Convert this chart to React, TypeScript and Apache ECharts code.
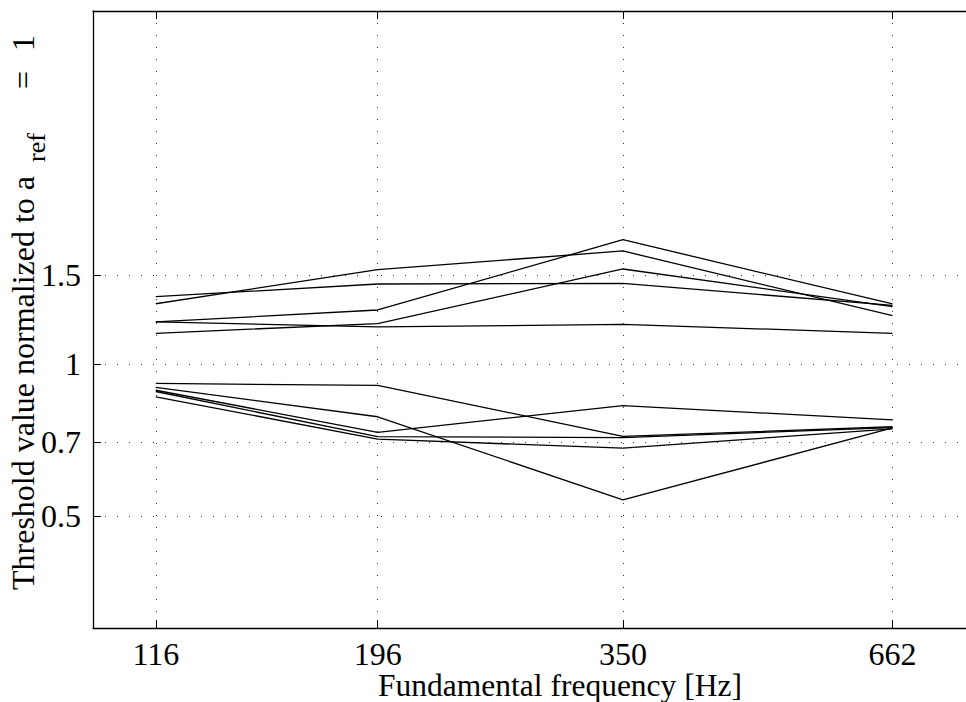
import React, { useEffect, useRef } from 'react';
import * as echarts from 'echarts';

// Fundamental frequencies (Hz) – x categories on a log axis
const frequencies = [116, 196, 350, 662];
const xTickValues = [116, 196, 350, 662];
const yTickValues = [0.5, 0.7, 1, 1.5];
const yTickLabels = ['0.5', '0.7', '1', '1.5'];

// Threshold values normalized to a_ref = 1 (one array per listener/condition)
const seriesA = [1.359, 1.44, 1.444, 1.306];
const seriesB = [1.316, 1.537, 1.674, 1.246];
const seriesC = [1.211, 1.279, 1.762, 1.315];
const seriesD = [1.211, 1.184, 1.198, 1.15];
const seriesE = [1.15, 1.202, 1.542, 1.299];
const seriesF = [0.915, 0.907, 0.719, 0.751];
const seriesG = [0.899, 0.786, 0.538, 0.747];
const seriesH = [0.887, 0.732, 0.827, 0.775];
const seriesI = [0.882, 0.718, 0.715, 0.748];
const seriesJ = [0.861, 0.71, 0.681, 0.744];

const allSeries = [seriesA, seriesB, seriesC, seriesD, seriesE, seriesF, seriesG, seriesH, seriesI, seriesJ];

const FONT = '"Liberation Serif", "DejaVu Serif", serif';
const CHART_W = 1100; // the plot box runs past the right edge of the 966px view, as in the reference

export default function App() {
  const ref = useRef<HTMLDivElement>(null);
  useEffect(() => {
    document.body.style.margin = '0';
    if (!ref.current) return;
    const chart = echarts.init(ref.current, null, { renderer: 'svg' });
    const fmtY = (v: number) => {
      const i = yTickValues.findIndex((t) => Math.abs(t - v) < 1e-6);
      return i >= 0 ? yTickLabels[i] : String(v);
    };
    const gridLine = { show: true, lineStyle: { type: [1, 11] as any, color: '#333', width: 1 } };
    const option: any = {
      animation: false,
      grid: { left: 93, top: 11, right: CHART_W - 1067, bottom: 74 },
      xAxis: [
        {
          type: 'log',
          logBase: 10,
          min: 100,
          max: 1000,
          position: 'bottom',
          axisLine: { show: true, onZero: false, lineStyle: { color: '#000', width: 1.3 } },
          axisTick: { show: true, inside: true, length: 8, customValues: xTickValues, lineStyle: { color: '#000', width: 1 } },
          axisLabel: { show: true, customValues: xTickValues, fontFamily: FONT, fontSize: 32, lineHeight: 24, color: '#000', margin: 14 },
          splitLine: gridLine,
          minorTick: { show: false },
          minorSplitLine: { show: false },
        },
        {
          type: 'log',
          logBase: 10,
          min: 100,
          max: 1000,
          position: 'top',
          axisLine: { show: true, onZero: false, lineStyle: { color: '#000', width: 1.3 } },
          axisTick: { show: true, inside: true, length: 8, customValues: xTickValues, lineStyle: { color: '#000', width: 1 } },
          axisLabel: { show: false },
          splitLine: { show: false },
        },
      ],
      yAxis: [
        {
          type: 'log',
          logBase: 10,
          min: 0.3,
          max: 5,
          position: 'left',
          axisLine: { show: true, onZero: false, lineStyle: { color: '#000', width: 1.3 } },
          axisTick: { show: true, inside: true, length: 8, customValues: yTickValues, lineStyle: { color: '#000', width: 1 } },
          axisLabel: { show: true, customValues: yTickValues, formatter: fmtY, fontFamily: FONT, fontSize: 32, color: '#000', margin: 12 },
          splitLine: gridLine,
          minorTick: { show: false },
        },
      ],
      series: allSeries.map((vals, k) => ({
        type: 'line',
        name: 'S' + (k + 1),
        xAxisIndex: 0,
        yAxisIndex: 0,
        symbol: 'none',
        lineStyle: { color: '#000', width: 1.3 },
        data: frequencies.map((f, i) => [f, vals[i]]),
      })),
      graphic: [
        {
          type: 'text',
          x: 560,
          y: 685,
          style: {
            text: 'Fundamental frequency [Hz]',
            font: `31.5px ${FONT}`,
            lineHeight: 24,
            fill: '#000',
            align: 'center',
            verticalAlign: 'middle',
          },
        },
        {
          type: 'text',
          x: 25,
          y: 590,
          rotation: Math.PI / 2,
          style: {
            text: '{m|Threshold value normalized to a}{s|ref}{e|=}{m|1}',
            align: 'left',
            verticalAlign: 'middle',
            fill: '#000',
            rich: {
              m: { fontFamily: FONT, fontSize: 32, lineHeight: 36, verticalAlign: 'top', fill: '#000' },
              s: { fontFamily: FONT, fontSize: 26, lineHeight: 26, padding: [16, 0, 0, 14], verticalAlign: 'top', fill: '#000' },
              e: { fontFamily: FONT, fontSize: 32, lineHeight: 36, padding: [0, 20, 0, 44], verticalAlign: 'top', fill: '#000' },
            },
          },
        },
      ],
    };
    chart.setOption(option);
    return () => chart.dispose();
  }, []);
  return (
    <div style={{ width: 966, height: 702, overflow: 'hidden', position: 'relative' }}>
      <div ref={ref} style={{ width: CHART_W, height: 702 }} />
    </div>
  );
}
